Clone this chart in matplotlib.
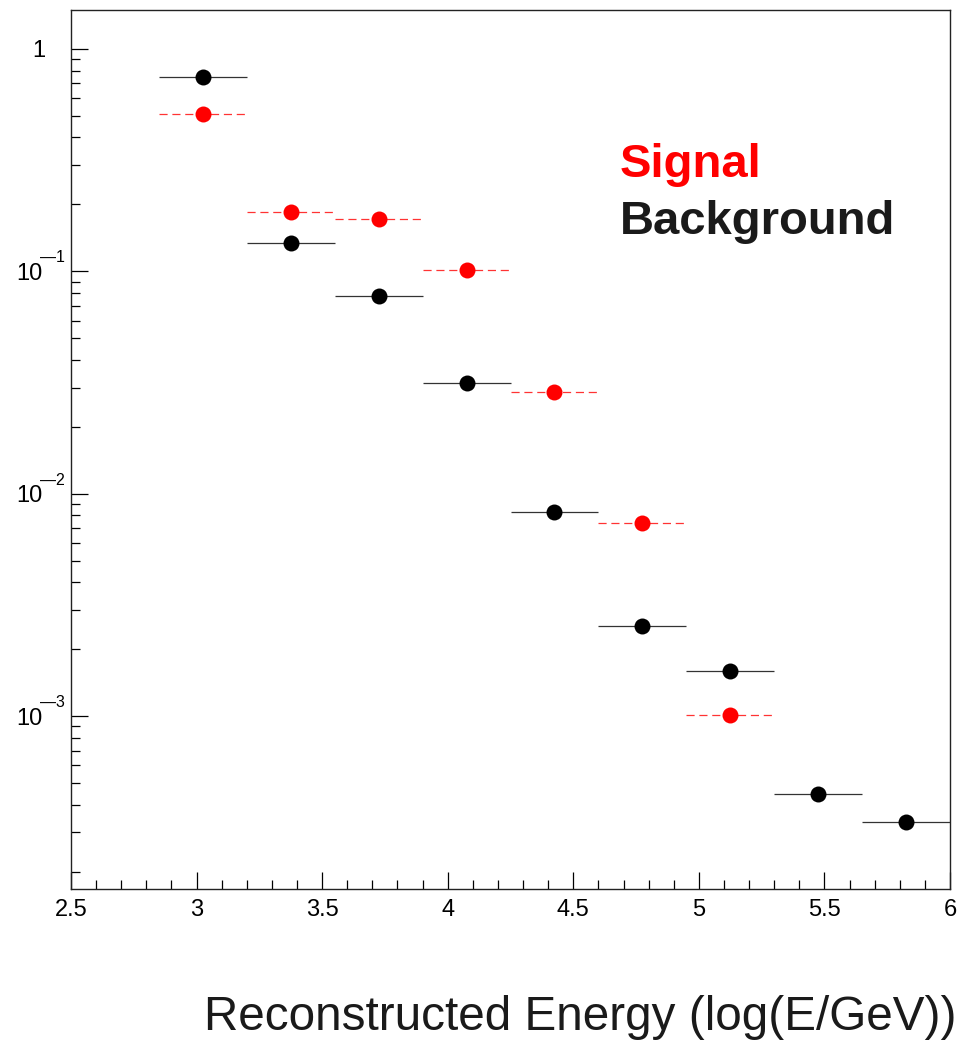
import numpy as np
import matplotlib
matplotlib.use("Agg")
import matplotlib.pyplot as plt
from matplotlib.ticker import FixedLocator, FixedFormatter, MultipleLocator, NullFormatter
from matplotlib.transforms import ScaledTranslation

plt.rcParams['font.family'] = ['Liberation Sans', 'DejaVu Sans']

# Energy bins in log10(E/GeV)
bin_edges = [2.85, 3.2, 3.55, 3.9, 4.25, 4.6, 4.95, 5.3, 5.65, 6.0]

# Normalised rates per bin
background = [0.748, 0.134, 0.0775, 0.0315, 0.00828, 0.00254, 0.00160, 4.47e-4, 3.34e-4]
signal = [0.510, 0.185, 0.172, 0.1015, 0.0287, 0.0074, 0.00101]

y_ticks = [1.0, 1e-1, 1e-2, 1e-3]
y_tick_base = ['1', '10', '10', '10']
y_tick_exp = ['', '\u20141', '\u20142', '\u20143']
x_ticks = [2.5, 3.0, 3.5, 4.0, 4.5, 5.0, 5.5, 6.0]
x_tick_labels = ['2.5', '3', '3.5', '4', '4.5', '5', '5.5', '6']

edges = np.array(bin_edges)
centers = 0.5 * (edges[:-1] + edges[1:])
half_w = 0.5 * (edges[1:] - edges[:-1])

fig = plt.figure(figsize=(9.65, 10.49), dpi=100)
ax = fig.add_axes([71 / 965, 1 - 889 / 1049, 879 / 965, 879 / 1049])

# background: solid horizontal bin-width bars with black dots
nb = len(background)
ax.errorbar(centers[:nb], background, xerr=half_w[:nb], fmt='o',
            color='black', ecolor='#333333', elinewidth=0.9,
            markersize=11.5, markeredgewidth=0, capsize=0, zorder=3)

# signal: dashed horizontal bars with red dots
ns = len(signal)
eb_s = ax.errorbar(centers[:ns], signal, xerr=half_w[:ns], fmt='o',
                   color='#ff0000', ecolor='#ff3333', elinewidth=0.9,
                   markersize=11.5, markeredgewidth=0, capsize=0, zorder=3)
for coll in eb_s[2]:
    coll.set_linestyle((0, (6.5, 3.8)))

ax.set_yscale('log')
ax.set_xlim(2.5, 6.0)
ax.set_ylim(1.67e-4, 1.497)

ax.yaxis.set_major_locator(FixedLocator(y_ticks))
ax.yaxis.set_major_formatter(NullFormatter())
ax.yaxis.set_minor_formatter(NullFormatter())
ax.xaxis.set_major_locator(FixedLocator(x_ticks))
ax.xaxis.set_major_formatter(FixedFormatter(x_tick_labels))
ax.xaxis.set_minor_locator(MultipleLocator(0.1))

ax.tick_params(axis='both', which='both', direction='in', top=False, right=False,
               colors='black', width=0.9)
ax.tick_params(axis='both', which='major', length=12, labelsize=17)
ax.tick_params(axis='both', which='minor', length=6.5)
ax.tick_params(axis='x', which='major', pad=7)
for sp in ax.spines.values():
    sp.set_linewidth(1.0)
    sp.set_color('#222222')

# y tick labels as power-of-ten text with a raised exponent
ytrans = ax.get_yaxis_transform()
for v, base, exp in zip(y_ticks, y_tick_base, y_tick_exp):
    if exp:
        ax.text(0, v, base, fontsize=17, ha='right', va='center_baseline',
                transform=ytrans + ScaledTranslation(-0.29, 0, fig.dpi_scale_trans))
        ax.text(0, v, exp, fontsize=11.5, ha='left', va='center_baseline',
                transform=ytrans + ScaledTranslation(-0.31, 0.15, fig.dpi_scale_trans))
    else:
        ax.text(0, v, base, fontsize=17, ha='right', va='center_baseline',
                transform=ytrans + ScaledTranslation(-0.26, 0, fig.dpi_scale_trans))

ax.text(620 / 965, 1 - 165 / 1049, 'Signal', transform=fig.transFigure,
        color='#ff0000', fontsize=34, fontweight='bold', ha='left', va='center')
ax.text(620 / 965, 1 - 222 / 1049, 'Background', transform=fig.transFigure,
        color='#1a1a1a', fontsize=34, fontweight='bold', ha='left', va='center')

fig.text(957 / 965, 1 - 1030 / 1049, 'Reconstructed Energy (log(E/GeV))',
         fontsize=34.3, color='#1a1a1a', ha='right', va='baseline')

fig.savefig('out.png', dpi=100)
